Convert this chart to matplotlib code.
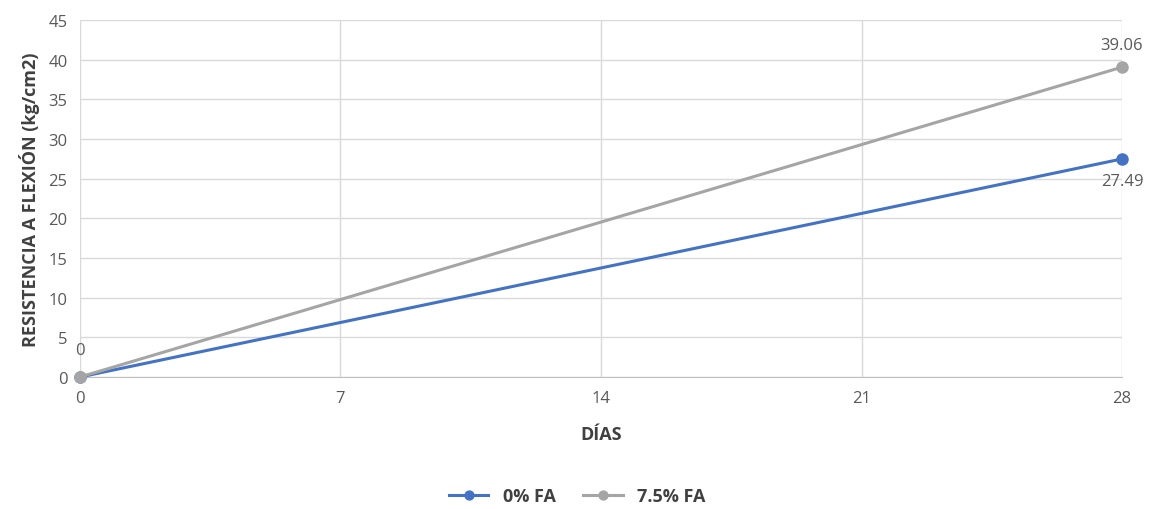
import matplotlib.pyplot as plt

dias = [0, 28]
fa_0 = [0, 27.49]
fa_75 = [0, 39.06]
series_names = ["0% FA", "7.5% FA"]
x_ticks = [0, 7, 14, 21, 28]
y_ticks = list(range(0, 46, 5))

plt.rcParams['font.family'] = ['Open Sans', 'DejaVu Sans']

fig = plt.figure(figsize=(11.54, 5.10), dpi=100)
ax = fig.add_axes([0.0693, 0.2588, 0.9030, 0.7000])

blue = "#4472C4"
gray = "#A5A5A5"
txt = "#595959"

ax.plot(dias, fa_0, color=blue, lw=2.2, marker="o", ms=8, label=series_names[0], zorder=3)
ax.plot(dias, fa_75, color=gray, lw=2.2, marker="o", ms=8, label=series_names[1], zorder=3)

# value labels at the points
ax.annotate(f"{fa_75[0]:g}", (dias[0], fa_75[0]), xytext=(0, 14), textcoords="offset points",
            ha="center", va="bottom", color=txt, fontsize=12)
ax.annotate(f"{fa_75[1]:.2f}", (dias[1], fa_75[1]), xytext=(0, 10), textcoords="offset points",
            ha="center", va="bottom", color=txt, fontsize=12)
ax.annotate(f"{fa_0[1]:.2f}", (dias[1], fa_0[1]), xytext=(0, -10), textcoords="offset points",
            ha="center", va="top", color=txt, fontsize=12)

ax.set_xlim(0, 28)
ax.set_ylim(0, 45)
ax.set_xticks(x_ticks)
ax.set_yticks(y_ticks)
ax.grid(True, color="#D9D9D9", lw=1)
ax.set_axisbelow(True)
for s in ["top", "right", "left"]:
    ax.spines[s].set_visible(False)
ax.spines["bottom"].set_color("#BFBFBF")
ax.tick_params(length=0, labelsize=12, colors=txt, pad=9)
for ln in ax.get_lines():
    ln.set_clip_on(False)

ax.set_xlabel("DÍAS", fontsize=13, fontweight="bold", color="#404040", labelpad=14)
ax.set_ylabel("RESISTENCIA A FLEXIÓN (kg/cm2)", fontsize=13, fontweight="bold", color="#404040", labelpad=6)

fig.legend(loc="lower center", bbox_to_anchor=(0.5, -0.025), ncol=2, frameon=False,
           prop={"weight": "bold", "size": 13}, handlelength=2.2, columnspacing=1.5,
           markerscale=0.8, labelcolor="#404040")

fig.savefig("out.png", dpi=100)
